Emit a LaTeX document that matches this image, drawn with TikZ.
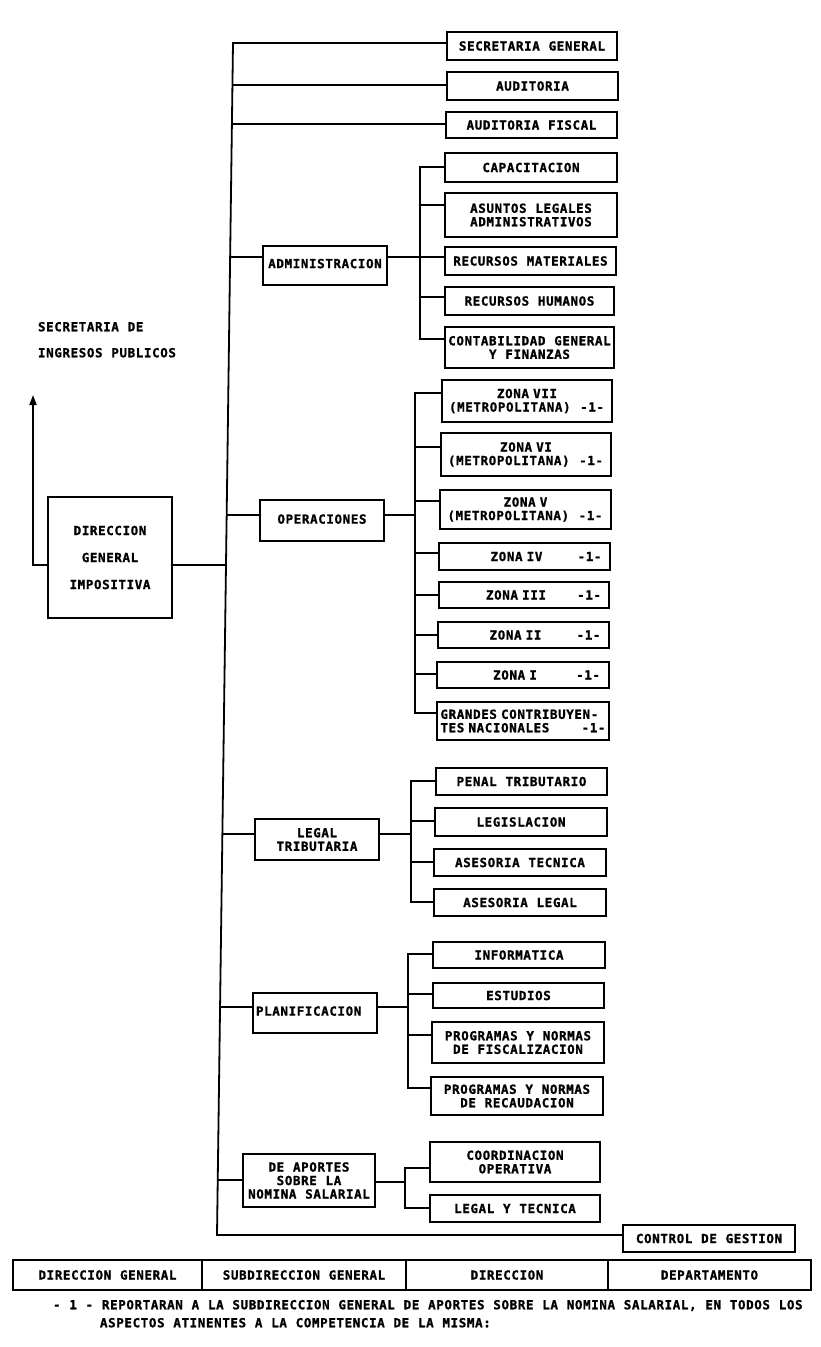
\documentclass[tikz,border=0pt]{standalone}
\usepackage{fontspec}
\usetikzlibrary{arrows.meta}
\newfontfamily\dotfont[LetterSpace=5,WordSpace={1.08,0,0},BoldFeatures={FakeBold=1.2}]{DejaVu Sans Mono}
\newcommand\orgbox[7][]{\node[box,minimum width={(#4)-(#2)},minimum height={(#5)-(#3)},#1] (#6) at ({((#2)+(#4))/2},{((#3)+(#5))/2}) {#7};}
\newcommand\zoneone[1]{\makebox[156pt]{\hspace*{30pt}\makebox[80pt]{#1}\hfill-1-\hspace*{1pt}}}
\newcommand\zonetwo[2]{\makebox[156pt]{#1}\\\makebox[156pt]{#2\hfill-1-\hspace*{1pt}}}
\tikzset{
  ln/.style={line width=1.8pt},
  box/.style={draw, line width=2pt, rectangle, inner sep=1pt, outer sep=0pt, align=center,
    font=\dotfont\bfseries\fontsize{12.5}{13.5}\selectfont},
  zone/.style={text width=156pt, inner xsep=6pt},
  txt/.style={inner sep=0pt, outer sep=0pt, font=\dotfont\bfseries\fontsize{12.5}{13.5}\selectfont},
}
\begin{document}
\begin{tikzpicture}[x=1pt,y=-1pt]
\fill[white] (0,0) rectangle (821,1347);
\useasboundingbox (0,0) rectangle (821,1347);

% top level
\orgbox{447}{32}{617}{60}{sg}{SECRETARIA GENERAL}
\orgbox{447}{72}{618}{100}{aud}{AUDITORIA}
\orgbox{446}{112}{617}{138}{audf}{AUDITORIA FISCAL}

% administracion
\orgbox{263}{246}{387}{285}{adm}{\raisebox{4pt}{ADMINISTRACION}}
\orgbox{445}{153}{617}{182}{cap}{CAPACITACION}
\orgbox{445}{193}{617}{237}{asu}{ASUNTOS LEGALES\\ADMINISTRATIVOS}
\orgbox{445}{247}{616}{275}{rm}{RECURSOS MATERIALES}
\orgbox{445}{287}{614}{315}{rh}{RECURSOS HUMANOS}
\orgbox{445}{327}{614}{368}{cont}{CONTABILIDAD GENERAL\\Y FINANZAS}

% direccion general
\orgbox{48}{497}{172}{618}{dgi}{DIRECCION\\[13.5pt]GENERAL\\[13.5pt]IMPOSITIVA}
\node[txt, anchor=north west, align=left] (sip) at (38,322) {SECRETARIA DE\\[12.5pt]INGRESOS PUBLICOS};

% operaciones
\orgbox{260}{500}{384}{541}{ops}{\raisebox{3pt}{OPERACIONES}}
\orgbox[zone]{442}{380}{612}{422}{z7}{\zonetwo{ZONA VII}{(METROPOLITANA)}}
\orgbox[zone]{441}{433}{611}{476}{z6}{\zonetwo{ZONA VI}{(METROPOLITANA)}}
\orgbox[zone]{440}{490}{611}{529}{z5}{\zonetwo{ZONA V}{(METROPOLITANA)}}
\orgbox[zone]{439}{543}{610}{570}{z4}{\zoneone{ZONA IV}}
\orgbox[zone]{439}{582}{609}{608}{z3}{\zoneone{ZONA III}}
\orgbox[zone]{438}{622}{609}{648}{z2}{\zoneone{ZONA II}}
\orgbox[zone]{437}{662}{609}{688}{z1}{\zoneone{ZONA I}}
\orgbox[text width=165pt, inner xsep=2pt]{437}{702}{609}{740}{gc}{\makebox[165pt][l]{GRANDES CONTRIBUYEN-}\\\makebox[165pt]{TES NACIONALES\hfill-1-}}

% legal tributaria
\orgbox{255}{819}{379}{860}{leg}{LEGAL\\TRIBUTARIA}
\orgbox{436}{768}{607}{795}{pt}{PENAL TRIBUTARIO}
\orgbox{435}{808}{607}{836}{lgs}{LEGISLACION}
\orgbox{434}{849}{606}{876}{ast}{ASESORIA TECNICA}
\orgbox{434}{889}{606}{916}{asl}{ASESORIA LEGAL}

% planificacion
\orgbox[align=left, text width=118pt]{253}{993}{377}{1033}{plan}{\raisebox{4pt}{PLANIFICACION}}
\orgbox{433}{942}{605}{968}{inf}{INFORMATICA}
\orgbox{433}{983}{604}{1008}{est}{ESTUDIOS}
\orgbox{432}{1022}{604}{1063}{pnf}{PROGRAMAS Y NORMAS\\DE FISCALIZACION}
\orgbox{431}{1077}{603}{1115}{pnr}{PROGRAMAS Y NORMAS\\DE RECAUDACION}

% aportes
\orgbox{243}{1154}{375}{1207}{apo}{DE APORTES\\SOBRE LA\\NOMINA SALARIAL}
\orgbox{430}{1142}{600}{1182}{coo}{COORDINACION\\OPERATIVA}
\orgbox{430}{1195}{600}{1222}{lyt}{LEGAL Y TECNICA}
\orgbox{623}{1225}{795}{1252}{cg}{CONTROL DE GESTION}

% legend
\orgbox{13}{1260}{202}{1290}{lg1}{DIRECCION GENERAL}
\orgbox{202}{1260}{406}{1290}{lg2}{SUBDIRECCION GENERAL}
\orgbox{406}{1260}{608}{1290}{lg3}{DIRECCION}
\orgbox{608}{1260}{811}{1290}{lg4}{DEPARTAMENTO}

\node[txt, anchor=north west, align=left] (fn) at (53,1300) {- 1 - REPORTARAN A LA SUBDIRECCION GENERAL DE APORTES SOBRE LA NOMINA SALARIAL, EN TODOS LOS\\[4.5pt]\hspace*{47pt}ASPECTOS ATINENTES A LA COMPETENCIA DE LA MISMA:};

% main trunk
\coordinate (trTop) at (233,43);
\coordinate (trBot) at (217,1235);
\draw[ln] (trTop -| sg.west) -- (trTop) -- (trBot) -- (trBot -| cg.west);
\coordinate (tAud) at (232.4,85);
\coordinate (tAudf) at (231.9,124);
\coordinate (tAdm) at (230.1,257);
\coordinate (tOps) at (226.7,515);
\coordinate (tDgi) at (226,565);
\coordinate (tLeg) at (222.4,834);
\coordinate (tPlan) at (220,1007);
\coordinate (tApo) at (217.7,1180);
\draw[ln] (tAud) -- (tAud -| aud.west);
\draw[ln] (tAudf) -- (tAudf -| audf.west);
\draw[ln] (tAdm) -- (tAdm -| adm.west);
\draw[ln] (tOps) -- (tOps -| ops.west);
\draw[ln] (tDgi -| dgi.east) -- (tDgi);
\draw[ln] (tLeg) -- (tLeg -| leg.west);
\draw[ln] (tPlan) -- (tPlan -| plan.west);
\draw[ln] (tApo) -- (tApo -| apo.west);

% arrow to secretaria de ingresos publicos
\coordinate (arC) at (33,565);
\coordinate (arTip) at (33,395);
\draw[ln,-{Triangle[width=7pt,length=10pt]}] (arC -| dgi.west) -- (arC) -- (arTip);

% administracion subtree
\coordinate (aTop) at (420,167);
\coordinate (aBot) at (420,339);
\coordinate (aMid) at (420,257);
\coordinate (aAsu) at (420,205);
\coordinate (aRh) at (420,297);
\draw[ln] (aTop -| cap.west) -- (aTop) -- (aBot) -- (aBot -| cont.west);
\draw[ln] (aMid -| adm.east) -- (aMid -| rm.west);
\draw[ln] (aAsu) -- (aAsu -| asu.west);
\draw[ln] (aRh) -- (aRh -| rh.west);

% operaciones subtree
\coordinate (oTop) at (415,393);
\coordinate (oBot) at (415,713);
\coordinate (oMid) at (415,515);
\coordinate (o6) at (415,447);
\coordinate (o5) at (415,501);
\coordinate (o4) at (415,553);
\coordinate (o3) at (415,595);
\coordinate (o2) at (415,635);
\coordinate (o1) at (415,674);
\draw[ln] (oTop -| z7.west) -- (oTop) -- (oBot) -- (oBot -| gc.west);
\draw[ln] (oMid -| ops.east) -- (oMid);
\draw[ln] (o6) -- (o6 -| z6.west);
\draw[ln] (o5) -- (o5 -| z5.west);
\draw[ln] (o4) -- (o4 -| z4.west);
\draw[ln] (o3) -- (o3 -| z3.west);
\draw[ln] (o2) -- (o2 -| z2.west);
\draw[ln] (o1) -- (o1 -| z1.west);

% legal subtree
\coordinate (lTop) at (411,781);
\coordinate (lBot) at (411,902);
\coordinate (lMid) at (411,834);
\coordinate (lLgs) at (411,821);
\coordinate (lAst) at (411,862);
\draw[ln] (lTop -| pt.west) -- (lTop) -- (lBot) -- (lBot -| asl.west);
\draw[ln] (lMid -| leg.east) -- (lMid);
\draw[ln] (lLgs) -- (lLgs -| lgs.west);
\draw[ln] (lAst) -- (lAst -| ast.west);

% planificacion subtree
\coordinate (pTop) at (408,954);
\coordinate (pBot) at (408,1088);
\coordinate (pMid) at (408,1007);
\coordinate (pEst) at (408,994);
\coordinate (pPnf) at (408,1035);
\draw[ln] (pTop -| inf.west) -- (pTop) -- (pBot) -- (pBot -| pnr.west);
\draw[ln] (pMid -| plan.east) -- (pMid);
\draw[ln] (pEst) -- (pEst -| est.west);
\draw[ln] (pPnf) -- (pPnf -| pnf.west);

% aportes subtree
\coordinate (sTop) at (405,1168);
\coordinate (sBot) at (405,1208);
\coordinate (sMid) at (405,1182);
\draw[ln] (sTop -| coo.west) -- (sTop) -- (sBot) -- (sBot -| lyt.west);
\draw[ln] (sMid -| apo.east) -- (sMid);
\end{tikzpicture}
\end{document}
